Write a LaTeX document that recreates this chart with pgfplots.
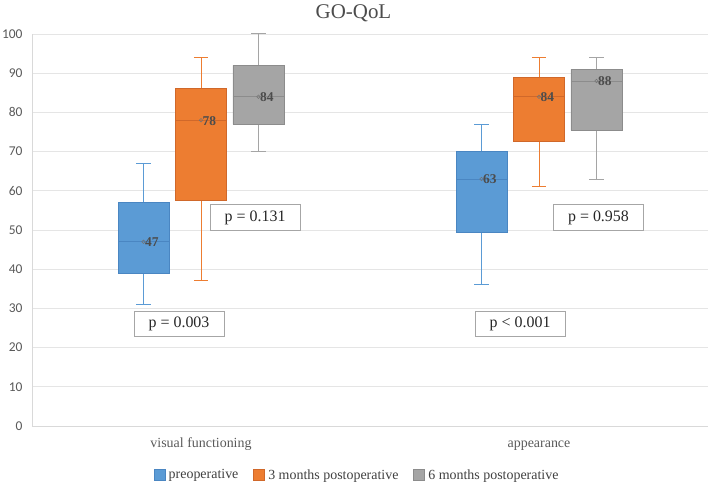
\documentclass[border=0pt]{standalone}
\usepackage{fontspec}
\setmainfont{Liberation Serif}
\newfontfamily\calibri{Carlito}
\usepackage{pgfplots}
\pgfplotsset{compat=1.18}
\definecolor{cblue}{HTML}{5B9BD5}
\definecolor{cbluedk}{HTML}{4A86C2}
\definecolor{corange}{HTML}{ED7D31}
\definecolor{corangedk}{HTML}{D0682A}
\definecolor{cgray}{HTML}{A5A5A5}
\definecolor{cgraydk}{HTML}{8C8C8C}
\definecolor{txt}{HTML}{595959}
\begin{document}
\begin{tikzpicture}
\useasboundingbox (-32bp,-59bp) rectangle (677bp,426bp);
\begin{axis}[
  at={(0,0)}, anchor=south west,
  scale only axis, width=676bp, height=392bp,
  xmin=-0.5, xmax=1.5, ymin=0, ymax=100,
  ytick={0,10,...,100},
  xtick={0,1}, xticklabels={visual functioning, appearance},
  ymajorgrids, grid style={black!10, line width=0.8pt},
  axis x line*=bottom, axis y line*=left,
  axis line style={black!15, line width=0.8pt},
  major tick length=0pt,
  clip=false,
  unbounded coords=jump,
  /pgf/number format/assume math mode=true,
  yticklabel style={font=\calibri\fontsize{13.5}{15}\selectfont, text=txt, xshift=-6bp},
  xticklabel style={font=\fontsize{14}{16}\selectfont, text=txt, anchor=base, yshift=-21bp},
  title={GO-QoL},
  title style={at={(0.4756,1)}, anchor=base, yshift=10bp, font=\fontsize{21}{24}\selectfont, text=black!70},
  legend style={at={(0.481,0)}, anchor=center, yshift=-49bp, draw=none, font=\fontsize{14}{16}\selectfont, text=black!75,
    /tikz/every even column/.append style={column sep=13bp},
    /tikz/every odd column/.append style={column sep=1.5bp}},
  legend columns=3,
  legend image code/.code={\draw[#1] (0bp,-5.5bp) rectangle (11bp,5.5bp);},
]
\addlegendimage{fill=cblue, draw=cbluedk}
\addlegendentry{preoperative}
\addlegendimage{fill=corange, draw=corangedk}
\addlegendentry{3 months postoperative}
\addlegendimage{fill=cgray, draw=cgraydk}
\addlegendentry{6 months postoperative}

% ---- whiskers (lower/upper with caps) ----
% preoperative: visual functioning (x=-0.17): 31,39,47,57,67 ; appearance (x=0.83): 36,49.5,63,70,77
\addplot[forget plot, draw=cblue, line width=1pt] coordinates {
 (-0.17,57) (-0.17,67) (nan,nan) (-0.191,67) (-0.149,67) (nan,nan)
 (-0.17,39) (-0.17,31) (nan,nan) (-0.191,31) (-0.149,31) (nan,nan)
 (0.83,70) (0.83,77) (nan,nan) (0.809,77) (0.851,77) (nan,nan)
 (0.83,49.5) (0.83,36) (nan,nan) (0.809,36) (0.851,36)};
% 3 months: vf (x=0): 37,57.5,78,86,94 ; app (x=1): 61,72.5,84,89,94
\addplot[forget plot, draw=corange, line width=1pt] coordinates {
 (0,86) (0,94) (nan,nan) (-0.021,94) (0.021,94) (nan,nan)
 (0,57.5) (0,37) (nan,nan) (-0.021,37) (0.021,37) (nan,nan)
 (1,89) (1,94) (nan,nan) (0.979,94) (1.021,94) (nan,nan)
 (1,72.5) (1,61) (nan,nan) (0.979,61) (1.021,61)};
% 6 months: vf (x=0.17): 70,77,84,92,100 ; app (x=1.17): 63,75.5,88,91,94
\addplot[forget plot, draw=cgray, line width=1pt] coordinates {
 (0.17,92) (0.17,100) (nan,nan) (0.149,100) (0.191,100) (nan,nan)
 (0.17,77) (0.17,70) (nan,nan) (0.149,70) (0.191,70) (nan,nan)
 (1.17,91) (1.17,94) (nan,nan) (1.149,94) (1.191,94) (nan,nan)
 (1.17,75.5) (1.17,63) (nan,nan) (1.149,63) (1.191,63)};

% ---- boxes (lower quartile to upper quartile) ----
\addplot[forget plot, fill=cblue, draw=cbluedk, line width=0.8pt] coordinates {(-0.2455,39) (-0.0945,39) (-0.0945,57) (-0.2455,57) (-0.2455,39)};
\addplot[forget plot, fill=cblue, draw=cbluedk, line width=0.8pt] coordinates {(0.7545,49.5) (0.9055,49.5) (0.9055,70) (0.7545,70) (0.7545,49.5)};
\addplot[forget plot, fill=corange, draw=corangedk, line width=0.8pt] coordinates {(-0.0755,57.5) (0.0755,57.5) (0.0755,86) (-0.0755,86) (-0.0755,57.5)};
\addplot[forget plot, fill=corange, draw=corangedk, line width=0.8pt] coordinates {(0.9245,72.5) (1.0755,72.5) (1.0755,89) (0.9245,89) (0.9245,72.5)};
\addplot[forget plot, fill=cgray, draw=cgraydk, line width=0.8pt] coordinates {(0.0945,77) (0.2455,77) (0.2455,92) (0.0945,92) (0.0945,77)};
\addplot[forget plot, fill=cgray, draw=cgraydk, line width=0.8pt] coordinates {(1.0945,75.5) (1.2455,75.5) (1.2455,91) (1.0945,91) (1.0945,75.5)};

% ---- median lines ----
\addplot[forget plot, draw=cbluedk, line width=0.6pt] coordinates {(-0.2455,47) (-0.0945,47) (nan,nan) (0.7545,63) (0.9055,63)};
\addplot[forget plot, draw=corangedk, line width=0.6pt] coordinates {(-0.0755,78) (0.0755,78) (nan,nan) (0.9245,84) (1.0755,84)};
\addplot[forget plot, draw=cgraydk, line width=0.6pt] coordinates {(0.0945,84) (0.2455,84) (nan,nan) (1.0945,88) (1.2455,88)};

% ---- median markers with labels ----
\addplot[forget plot, only marks, mark=o, mark size=1.8bp, mark options={draw=black!55, line width=0.5pt},
  nodes near coords, point meta=y,
  nodes near coords style={anchor=west, xshift=-2bp, yshift=-0.5bp, font=\bfseries\fontsize{13.5}{15}\selectfont, text=black!70}]
  coordinates {(-0.17,47) (0,78) (0.17,84) (0.83,63) (1,84) (1.17,88)};

\node[draw=black!35, fill=white, minimum width=90bp, minimum height=25bp, font=\fontsize{16}{18}\selectfont, text=black!85] at (axis cs:-0.065,26) {p = 0.003};
\node[draw=black!35, fill=white, minimum width=90bp, minimum height=25bp, font=\fontsize{16}{18}\selectfont, text=black!85] at (axis cs:0.944,26) {p < 0.001};
\node[draw=black!35, fill=white, minimum width=90bp, minimum height=26bp, font=\fontsize{16}{18}\selectfont, text=black!85] at (axis cs:0.160,53.2) {p = 0.131};
\node[draw=black!35, fill=white, minimum width=90bp, minimum height=26bp, font=\fontsize{16}{18}\selectfont, text=black!85] at (axis cs:1.176,53.2) {p = 0.958};
\end{axis}
\end{tikzpicture}
\end{document}
